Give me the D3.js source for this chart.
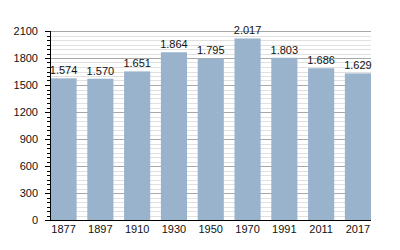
<!DOCTYPE html>
<html>
<head>
<meta charset="utf-8">
<script src="https://cdn.jsdelivr.net/npm/d3@7"></script>
<style>
  body { margin: 0; background: #fff; }
  text { font-family: "Liberation Sans", Arial, sans-serif; }
</style>
</head>
<body>
<div id="chart"></div>
<script>
'use strict';
const years = ["1877", "1897", "1910", "1930", "1950", "1970", "1991", "2011", "2017"];
const population = [1574, 1570, 1651, 1864, 1795, 2017, 1803, 1686, 1629];
const majorTicks = [0, 300, 600, 900, 1200, 1500, 1800, 2100];

const width = 400, height = 250;
const plotLeft = 50, plotRight = 371, plotTop = 31, plotBottom = 220;

const svg = d3.select("#chart").append("svg")
  .attr("width", width)
  .attr("height", height);

const x = d3.scaleBand()
  .domain(years)
  .range([plotLeft + 0.5, plotRight])
  .paddingInner(0.29)
  .paddingOuter(0);

const y = d3.scaleLinear()
  .domain([0, 2100])
  .range([plotBottom, plotTop]);

const minorTicks = d3.range(0, 2101, 50);
const py = d => Math.round(y(d)) + 0.5;

// grid
svg.append("g").selectAll("line")
  .data(minorTicks.filter(d => d % 300 !== 0))
  .enter().append("line")
  .attr("x1", plotLeft).attr("x2", plotRight)
  .attr("y1", py).attr("y2", py)
  .attr("stroke", "#e0e0e0");
svg.append("g").selectAll("line")
  .data(majorTicks.filter(d => d > 0))
  .enter().append("line")
  .attr("x1", plotLeft).attr("x2", plotRight)
  .attr("y1", py).attr("y2", py)
  .attr("stroke", "#a8a8a8");

// bars
svg.append("g").selectAll("rect")
  .data(population)
  .enter().append("rect")
  .attr("x", (d, i) => x(years[i]))
  .attr("width", x.bandwidth())
  .attr("y", d => y(d))
  .attr("height", d => plotBottom - y(d))
  .attr("fill", "#9ab3cd");

// value labels
const fmt = d3.formatLocale({ decimal: ",", thousands: ".", grouping: [3], currency: ["", ""] }).format(",");
svg.append("g").selectAll("text")
  .data(population)
  .enter().append("text")
  .attr("x", (d, i) => x(years[i]) + x.bandwidth() / 2)
  .attr("y", d => y(d) - 4)
  .attr("text-anchor", "middle")
  .attr("font-size", "11px")
  .attr("fill", "#111")
  .text(d => fmt(d));

// y axis
const yAxis = svg.append("g");
yAxis.selectAll("line.minor")
  .data(minorTicks.filter(d => d % 300 !== 0))
  .enter().append("line")
  .attr("class", "minor")
  .attr("x1", plotLeft - 3).attr("x2", plotLeft)
  .attr("y1", py).attr("y2", py)
  .attr("stroke", "#000");
yAxis.selectAll("line.major")
  .data(majorTicks)
  .enter().append("line")
  .attr("class", "major")
  .attr("x1", plotLeft - 5).attr("x2", plotLeft)
  .attr("y1", py).attr("y2", py)
  .attr("stroke", "#000");
yAxis.selectAll("text")
  .data(majorTicks)
  .enter().append("text")
  .attr("x", plotLeft - 12)
  .attr("y", d => y(d) + 4)
  .attr("text-anchor", "end")
  .attr("font-size", "11px")
  .attr("fill", "#111")
  .text(d => d);
yAxis.append("line")
  .attr("x1", plotLeft + 0.5).attr("x2", plotLeft + 0.5)
  .attr("y1", plotTop).attr("y2", plotBottom + 1)
  .attr("stroke", "#000");

// x axis
svg.append("line")
  .attr("x1", plotLeft).attr("x2", plotRight)
  .attr("y1", plotBottom + 0.5).attr("y2", plotBottom + 0.5)
  .attr("stroke", "#000");
svg.append("g").selectAll("text")
  .data(years)
  .enter().append("text")
  .attr("x", d => x(d) + x.bandwidth() / 2)
  .attr("y", plotBottom + 13)
  .attr("text-anchor", "middle")
  .attr("font-size", "11px")
  .attr("fill", "#111")
  .text(d => d);
</script>
</body>
</html>
